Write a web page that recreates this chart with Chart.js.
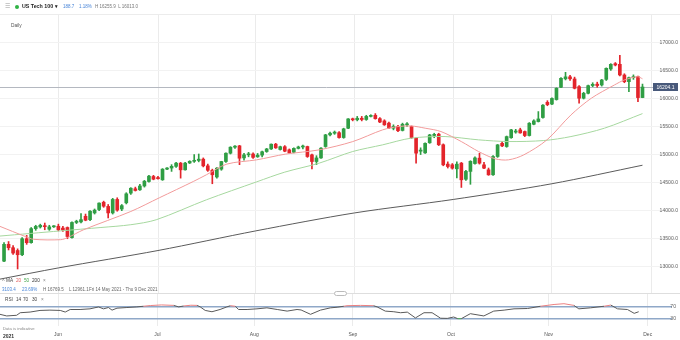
<!DOCTYPE html>
<html>
<head>
<meta charset="utf-8">
<title>US Tech 100 - Daily</title>
<script src="https://cdn.jsdelivr.net/npm/chart.js@4.4.1/dist/chart.umd.min.js"></script>
<style>
  html, body { margin: 0; padding: 0; background: #fff; }
  #wrap { position: relative; width: 680px; height: 340px; overflow: hidden; font-family: Arial, "Liberation Sans", sans-serif; }
  canvas { position: absolute; left: 0; }
  #mainChart { top: 0; }
  #rsiChart { top: 285px; }
  .t { position: absolute; white-space: nowrap; line-height: 1; }
  .rule { position: absolute; left: 0; width: 680px; height: 1px; }
</style>
</head>
<body>
<div id="wrap">
  <canvas id="mainChart" width="680" height="301"></canvas>
  <canvas id="rsiChart" width="680" height="55"></canvas>

  <!-- header -->
  <div class="rule" style="top:14px;background:#ececec"></div>
  <div class="t" style="left:5px;top:3px;font-size:6px;color:#999">&#9776;</div>
  <div style="position:absolute;left:15px;top:5px;width:4px;height:4px;border-radius:50%;background:#2fb344"></div>
  <div class="t" style="left:22px;top:4px;font-size:5.3px;font-weight:bold;color:#222">US Tech 100 <span style="font-size:4.5px">&#9662;</span></div>
  <div class="t" style="left:63px;top:4.5px;font-size:4.5px;color:#4a86d8">188.7</div>
  <div class="t" style="left:79px;top:4.5px;font-size:4.5px;color:#4a86d8">1.18%</div>
  <div class="t" style="left:95px;top:4.5px;font-size:4.5px;color:#777">H 16255.9 &nbsp;L 16013.0</div>
  <div class="t" style="left:11px;top:23.5px;font-size:4.8px;color:#555">Daily</div>

  <!-- moving average legend -->
  <div class="t" style="left:2px;top:279px;font-size:4.7px;color:#666">&#708;</div>
  <div class="t" style="left:6px;top:279.3px;font-size:4.7px;color:#444">MA</div>
  <div class="t" style="left:16px;top:279.3px;font-size:4.7px;color:#e06060">20</div>
  <div class="t" style="left:24px;top:279.3px;font-size:4.7px;color:#46a64e">50</div>
  <div class="t" style="left:32px;top:279.3px;font-size:4.7px;color:#333">200</div>
  <div class="t" style="left:43px;top:279.3px;font-size:4.7px;color:#888">&times;</div>
  <div class="t" style="left:2px;top:287.8px;font-size:4.5px;color:#4a86d8">3103.4</div>
  <div class="t" style="left:22px;top:287.8px;font-size:4.5px;color:#4a86d8">23.69%</div>
  <div class="t" style="left:43px;top:287.8px;font-size:4.5px;color:#666">H 16769.5</div>
  <div class="t" style="left:69px;top:287.8px;font-size:4.5px;color:#666">L 12961.1</div>
  <div class="t" style="left:89px;top:287.8px;font-size:4.5px;color:#666">Fri 14 May 2021 - Thu 9 Dec 2021</div>

  <!-- pane divider -->
  <div class="rule" style="top:293px;background:#dedede"></div>
  <div style="position:absolute;left:334px;top:291px;width:11px;height:3px;border:1px solid #bbb;border-radius:3px;background:#fff"></div>

  <!-- RSI legend -->
  <div class="t" style="left:5px;top:297.6px;font-size:4.7px;color:#444">RSI</div>
  <div class="t" style="left:16px;top:297.6px;font-size:4.7px;color:#444">14</div>
  <div class="t" style="left:23px;top:297.6px;font-size:4.7px;color:#444">70</div>
  <div class="t" style="left:32px;top:297.6px;font-size:4.7px;color:#444">30</div>
  <div class="t" style="left:41px;top:297.6px;font-size:4.7px;color:#888">&times;</div>

  <div class="t" style="left:3px;top:327.3px;font-size:4.2px;color:#888">Data is indicative</div>
  <div class="t" style="left:3px;top:333.5px;font-size:5px;font-weight:bold;color:#333">2021</div>
</div>

<script>
// Daily candles, one entry per weekday starting Fri 14 May 2021
const opens = [
  13100.7, 13400, 13340, 13290, 13215, 13500, 13430, 13680, 13710, 13730,
  13670, 13712, 13722, 13690, 13700, 13520, 13790, 13800, 13900, 13840,
  13960, 14020, 14150, 14076, 13960, 14200, 14030, 14140, 14313, 14390,
  14372, 14440, 14520, 14609, 14590, 14550, 14740, 14760, 14790, 14847,
  14728, 14850, 14880, 14895, 14918, 14799, 14720, 14600, 14740, 14876,
  15024, 15131, 15155, 14940, 14995, 15010, 14960, 14990, 15054, 15100,
  15185, 15090, 15140, 15084, 15040, 15110, 15135, 15143, 14995, 14876,
  14940, 15143, 15351, 15380, 15390, 15303, 15469, 15635, 15620, 15647,
  15625, 15680, 15700, 15640, 15600, 15560, 15470, 15500, 15430, 15530,
  15500, 15290, 15060, 15030, 15210, 15340, 15363, 15175, 14830, 14817,
  14746, 14847, 14560, 14700, 14840, 14936, 14817, 14728, 14640, 14965,
  15200, 15143, 15300, 15400, 15440, 15410, 15339, 15540, 15588, 15660,
  15930, 15900, 15980, 16200, 16350, 16385, 16347, 16210, 16004, 16092,
  16230, 16255, 16240, 16340, 16525, 16620, 16608, 16418, 16299, 16370,
  16388, 16015.4
];
const highs = [
  13430, 13450, 13380, 13320, 13520, 13560, 13700, 13740, 13760, 13780,
  13740, 13735, 13760, 13720, 13710, 13800, 13830, 13950, 13940, 14000,
  14030, 14140, 14170, 14110, 14220, 14230, 14110, 14320, 14410, 14420,
  14470, 14540, 14630, 14630, 14610, 14750, 14770, 14820, 14860, 14860,
  14860, 14890, 15000, 15010, 14940, 14830, 14740, 14770, 14880, 15030,
  15140, 15160, 15165, 15020, 15040, 15030, 15020, 15060, 15110, 15190,
  15200, 15150, 15160, 15100, 15120, 15150, 15170, 15150, 15010, 14980,
  15125, 15360, 15400, 15420, 15410, 15470, 15640, 15650, 15680, 15680,
  15700, 15710, 15730, 15660, 15620, 15580, 15530, 15520, 15560, 15570,
  15510, 15300, 15120, 15210, 15360, 15380, 15380, 15190, 14870, 14840,
  14870, 14860, 14720, 14890, 14960, 15025, 14860, 14760, 14980, 15180,
  15230, 15330, 15450, 15450, 15470, 15420, 15570, 15620, 15766, 15890,
  15960, 16010, 16190, 16370, 16465, 16410, 16380, 16230, 16110, 16240,
  16280, 16290, 16340, 16545, 16620, 16640, 16769.5, 16440, 16380, 16420,
  16400, 16255.9
];
const lows = [
  13090, 13300, 13220, 12961.1, 13200, 13400, 13420, 13650, 13690, 13660,
  13650, 13700, 13640, 13630, 13500, 13510, 13770, 13780, 13820, 13820,
  13940, 14000, 14060, 13870, 13940, 13990, 14000, 14120, 14290, 14350,
  14360, 14420, 14510, 14550, 14560, 14540, 14730, 14700, 14770, 14580,
  14720, 14840, 14860, 14870, 14780, 14700, 14480, 14580, 14720, 14860,
  15010, 15110, 14820, 14900, 14960, 14930, 14950, 14960, 15040, 15090,
  15110, 15080, 15050, 15020, 15030, 15100, 15100, 14950, 14746, 14820,
  14930, 15130, 15330, 15360, 15290, 15290, 15460, 15600, 15600, 15600,
  15610, 15670, 15630, 15570, 15520, 15460, 15440, 15410, 15420, 15500,
  15290, 14847, 15000, 15020, 15200, 15300, 15160, 14800, 14760, 14740,
  14585, 14414, 14540, 14470, 14830, 14830, 14750, 14630, 14630, 14950,
  15140, 15130, 15290, 15380, 15380, 15320, 15330, 15530, 15580, 15650,
  15870, 15890, 15970, 16190, 16330, 16320, 16170, 15915, 15990, 16080,
  16210, 16200, 16220, 16320, 16500, 16580, 16400, 16280, 16122, 16340,
  15944, 16013.0
];
const closes = [
  13400, 13340, 13245, 13215, 13500, 13430, 13680, 13720, 13740, 13715,
  13712, 13725, 13660, 13655, 13540, 13790, 13812, 13840, 13830, 13990,
  14010, 14135, 14080, 13960, 14200, 14010, 14090, 14300, 14400, 14360,
  14440, 14525, 14615, 14562, 14570, 14740, 14760, 14790, 14847, 14728,
  14847, 14880, 14890, 14918, 14799, 14720, 14640, 14758, 14876, 15024,
  15131, 15150, 14935, 14995, 15010, 14950, 14990, 15050, 15100, 15185,
  15120, 15140, 15060, 15030, 15110, 15135, 15150, 14965, 14876, 14940,
  15114, 15351, 15380, 15400, 15303, 15458, 15635, 15620, 15647, 15625,
  15680, 15695, 15640, 15580, 15530, 15475, 15500, 15425, 15540, 15545,
  15303, 15025, 15080, 15200, 15350, 15360, 15175, 14817, 14787, 14758,
  14829, 14550, 14700, 14880, 14940, 14847, 14758, 14639, 14965, 15173,
  15155, 15320, 15440, 15420, 15386, 15339, 15558, 15600, 15635, 15880,
  15890, 16000, 16181, 16359, 16385, 16350, 16181, 16004, 16092, 16228,
  16252, 16230, 16329, 16537, 16608, 16596, 16418, 16299, 16370, 16388,
  16015.4, 16204.1
];

// moving averages: [candle index, value]
const ma20 = [
  [-0.9, 13720], [4.7, 13540], [6.5, 13490], [12.5, 13483], [14, 13518], [17.6, 13661],
  [28, 13986], [34.3, 14230], [41.8, 14520], [44.7, 14640], [49.2, 14830], [55.8, 14906],
  [62.1, 15007], [69.6, 15084], [77, 15231], [83.6, 15440], [87, 15498], [89.9, 15510],
  [93, 15470], [96.5, 15410], [101, 15231], [104.8, 15054], [108.5, 14924], [111.4, 14906],
  [114.8, 14995], [119.9, 15262], [125.2, 15706], [129.7, 16004], [134.8, 16240], [137, 16329],
  [139.9, 16388], [141, 16350]
];
const ma50 = [
  [-0.9, 13548], [12.5, 13640], [21.4, 13700], [28, 13750], [33.6, 13838], [44.7, 14194],
  [55.8, 14514], [62, 14687], [69.6, 14847], [77, 15054], [83.6, 15173], [89.9, 15292],
  [97.4, 15321], [104.8, 15262], [111.4, 15232], [119.2, 15250], [125.2, 15321], [132.6, 15470],
  [141, 15730]
];
const ma200 = [
  [-0.9, 12780], [12, 12980], [34, 13290], [55.6, 13640], [77.4, 13960], [99.2, 14200],
  [121, 14480], [141, 14810]
];

// RSI 14: [candle index, value]
const rsi = [
  [-0.9, 43.8], [0.6, 38.5], [2.8, 40.6], [3.6, 49], [5.8, 51.2], [8, 56.5], [10.2, 57.5],
  [12.5, 56.5], [13.6, 51.2], [14.7, 59.6], [16.9, 59.6], [19.1, 61.7], [21, 67.9], [22.1, 61.7],
  [23.2, 66], [24, 57.5], [25.1, 63.9], [27.3, 66], [29.5, 68], [31, 70.2], [32.5, 72.5],
  [35, 74.5], [37.7, 73], [38.8, 68], [39.9, 71], [41.5, 73.5], [42.9, 73], [43.6, 68],
  [44.7, 56.5], [46.2, 52.2], [48, 59.6], [49.5, 68], [50.3, 72], [51.4, 70.1], [52.1, 59.6],
  [54, 59.6], [56.2, 61.7], [58.4, 65], [60.7, 59.6], [62.9, 54.3], [65.1, 59.6], [66, 58],
  [68.1, 43.8], [70.3, 57.5], [72.5, 64.9], [74, 67], [75.5, 70.2], [76.2, 72], [79.2, 73],
  [82.1, 72], [82.9, 68], [84.7, 54.3], [86.6, 52.2], [88.1, 49], [89.6, 51], [91.4, 32],
  [93.3, 49], [95.1, 49], [97, 31], [98.5, 30.5], [99.9, 35], [100.8, 29.6], [101.6, 29.6],
  [103.6, 45.9], [106.6, 38.5], [108.8, 54.3], [111.1, 57.5], [113.3, 61.7], [116.3, 62.8],
  [119.2, 70.2], [122.2, 76], [124.4, 78.5], [126.6, 73], [127.7, 61.7], [130.3, 65],
  [133.3, 70.2], [134.8, 74], [136.3, 61.7], [138.5, 59.6], [140, 47], [141, 52.2]
];

// price axis ticks and month boundaries on the index axis
const priceTicks = [13000, 13500, 14000, 14500, 15000, 15500, 16000, 16500, 17000];
const rsiTicks = [30, 70];
const monthPos = [12, 34.1, 55.6, 77.5, 99.3, 121, 143];
const monthLabels = ['Jun', 'Jul', 'Aug', 'Sep', 'Oct', 'Nov', 'Dec'];

const UP = '#2f9e44';
const DOWN = '#e3242b';
const X_MIN = -0.89;
const X_MAX = 148.4;
const FONT = 'Arial, "Liberation Sans", sans-serif';

function candleColor(i) {
  return closes[i] >= opens[i] ? UP : DOWN;
}

function toPoints(pairs) {
  return pairs.map(function (p) { return { x: p[0], y: p[1] }; });
}

function setMonthTicks(scale) {
  scale.ticks = monthPos.map(function (v) { return { value: v }; });
}

function maLine(label, pairs, color, width) {
  return {
    type: 'line',
    label: label,
    data: toPoints(pairs),
    borderColor: color,
    borderWidth: width,
    pointRadius: 0,
    tension: 0.3,
    order: 1
  };
}

// last price line and its tag on the price axis
const lastPricePlugin = {
  id: 'lastPrice',
  beforeDatasetsDraw(chart) {
    const ctx = chart.ctx, area = chart.chartArea;
    const y = Math.round(chart.scales.y.getPixelForValue(closes[closes.length - 1])) + 0.5;
    ctx.save();
    ctx.strokeStyle = '#b4b8c0';
    ctx.lineWidth = 1;
    ctx.beginPath();
    ctx.moveTo(area.left, y);
    ctx.lineTo(chart.width - 27, y);
    ctx.stroke();
    ctx.restore();
  },
  afterDraw(chart) {
    const ctx = chart.ctx;
    const last = closes[closes.length - 1];
    const y = Math.round(chart.scales.y.getPixelForValue(last));
    ctx.save();
    ctx.fillStyle = '#48597a';
    ctx.fillRect(chart.width - 27, y - 4, 25, 8);
    ctx.fillStyle = '#fff';
    ctx.font = '5px ' + FONT;
    ctx.textAlign = 'center';
    ctx.textBaseline = 'middle';
    ctx.fillText(last.toFixed(1), chart.width - 14.5, y + 0.5);
    ctx.restore();
  }
};

// price pane: candles plus the three moving averages
new Chart(document.getElementById('mainChart'), {
  type: 'bar',
  data: {
    datasets: [
      maLine('MA 20', ma20, '#f29b9b', 1),
      maLine('MA 50', ma50, '#a6d89f', 1),
      maLine('MA 200', ma200, '#5b5b5b', 1),
      {
        label: 'body',
        data: opens.map(function (o, i) { return { x: i, y: [o, closes[i]] }; }),
        backgroundColor: function (c) { return candleColor(c.dataIndex); },
        barThickness: 3,
        minBarLength: 1,
        grouped: false,
        order: 2
      },
      {
        label: 'wick',
        data: lows.map(function (l, i) { return { x: i, y: [l, highs[i]] }; }),
        backgroundColor: function (c) { return candleColor(c.dataIndex); },
        barThickness: 1,
        grouped: false,
        order: 3
      }
    ]
  },
  options: {
    responsive: false,
    animation: false,
    devicePixelRatio: 1,
    events: [],
    layout: { padding: { top: 15, bottom: 8, left: 0, right: 0 } },
    plugins: { legend: { display: false }, tooltip: { enabled: false } },
    scales: {
      x: {
        type: 'linear',
        min: X_MIN,
        max: X_MAX,
        offset: false,
        afterBuildTicks: setMonthTicks,
        border: { display: false },
        grid: { color: '#ebebeb', drawTicks: false, offset: false },
        ticks: { display: false }
      },
      y: {
        position: 'right',
        min: 12533,
        max: 17487,
        afterBuildTicks: function (scale) {
          scale.ticks = priceTicks.map(function (v) { return { value: v }; });
        },
        border: { display: false },
        grid: { color: '#f2f2f2', drawTicks: false },
        ticks: {
          mirror: true,
          padding: 2,
          color: '#666',
          font: { family: FONT, size: 5.1 },
          callback: function (v) { return v.toFixed(1); }
        }
      }
    }
  },
  plugins: [lastPricePlugin]
});

// RSI pane with the 70 / 30 bands and the month axis
new Chart(document.getElementById('rsiChart'), {
  type: 'line',
  data: {
    datasets: [{
      label: 'RSI 14',
      data: toPoints(rsi),
      borderColor: '#5a5a5a',
      borderWidth: 1,
      pointRadius: 0,
      tension: 0,
      segment: {
        borderColor: function (c) {
          const a = c.p0.parsed.y, b = c.p1.parsed.y;
          if (a >= 70 && b >= 70) return '#ec8080';
          if (a <= 30 && b <= 30) return '#4caf50';
          return undefined;
        }
      }
    }]
  },
  options: {
    responsive: false,
    animation: false,
    devicePixelRatio: 1,
    events: [],
    layout: { padding: { top: 8, bottom: 1, left: 0, right: 0 } },
    plugins: { legend: { display: false }, tooltip: { enabled: false } },
    scales: {
      x: {
        type: 'linear',
        min: X_MIN,
        max: X_MAX,
        offset: false,
        afterBuildTicks: setMonthTicks,
        afterFit: function (scale) { scale.height = 13; },
        border: { display: false },
        grid: { color: '#ebebeb', drawTicks: false, offset: false },
        ticks: {
          autoSkip: false,
          maxRotation: 0,
          padding: 6,
          color: '#555',
          font: { family: FONT, size: 5 },
          callback: function (v, i) { return monthLabels[i]; }
        }
      },
      y: {
        position: 'right',
        min: 5.6,
        max: 113.5,
        afterBuildTicks: function (scale) {
          scale.ticks = rsiTicks.map(function (v) { return { value: v }; });
        },
        border: { display: false },
        grid: { color: '#8fa8c8', lineWidth: 1.5, drawTicks: false },
        ticks: {
          mirror: true,
          padding: 4,
          color: '#666',
          font: { family: FONT, size: 5.1 },
          callback: function (v) { return String(v); }
        }
      }
    }
  }
});
</script>
</body>
</html>
